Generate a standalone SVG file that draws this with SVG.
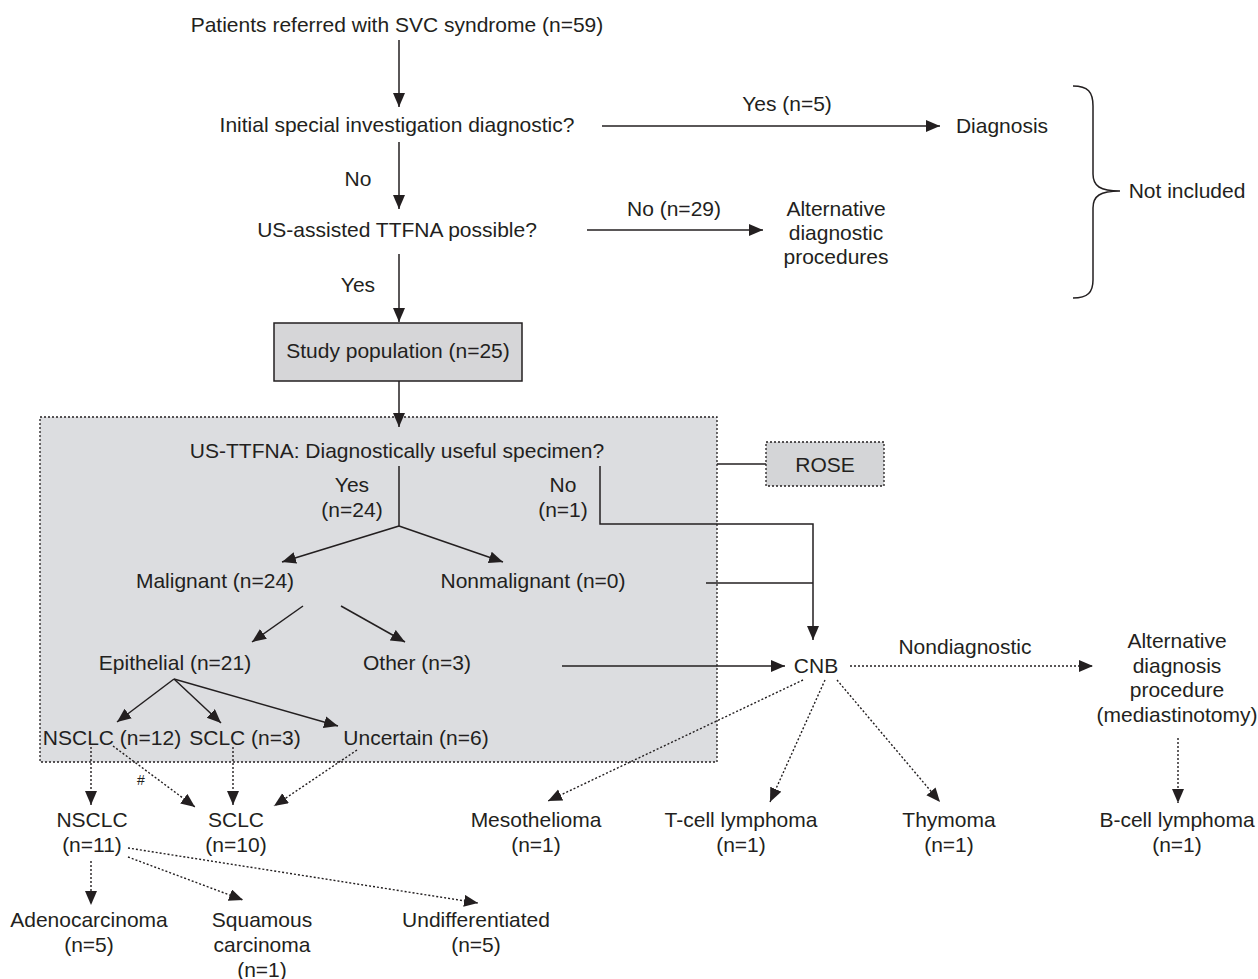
<svg xmlns="http://www.w3.org/2000/svg" width="1258" height="979" viewBox="0 0 1258 979">
<style>
text{font-family:"Liberation Sans",Arial,sans-serif;font-size:21px;fill:#231f20;text-anchor:middle}
.s{stroke:#231f20;stroke-width:1.5;fill:none}
.d{stroke:#231f20;stroke-width:1.4;fill:none;stroke-dasharray:2 2}
.box{stroke:#231f20;stroke-width:1.3;stroke-dasharray:2 2}
</style>
<defs>
<marker id="ah" markerUnits="userSpaceOnUse" markerWidth="15" markerHeight="13" refX="14" refY="6" orient="auto">
<path d="M0,0 L14,6 L0,12 z" fill="#231f20"/>
</marker>
</defs>
<rect width="1258" height="979" fill="#fff"/>

<g id="tfnaBox"><rect x="40" y="417" width="677" height="345" fill="#dcdde0" class="box"/></g>

<g id="connectors">
<line class="s" x1="399" y1="40" x2="399" y2="107" marker-end="url(#ah)"/>
<line class="s" x1="602" y1="126" x2="940" y2="126" marker-end="url(#ah)"/>
<line class="s" x1="399" y1="142" x2="399" y2="209" marker-end="url(#ah)"/>
<line class="s" x1="587" y1="230" x2="763" y2="230" marker-end="url(#ah)"/>
<line class="s" x1="399" y1="254" x2="399" y2="322" marker-end="url(#ah)"/>
<line class="s" x1="399" y1="381" x2="399" y2="427" marker-end="url(#ah)"/>
<polyline class="s" points="399,466 399,526"/>
<line class="s" x1="399" y1="526" x2="282" y2="562" marker-end="url(#ah)"/>
<line class="s" x1="399" y1="526" x2="503" y2="562" marker-end="url(#ah)"/>
<polyline class="s" points="600,466 600,524 813,524 813,640" marker-end="url(#ah)"/>
<line class="s" x1="706" y1="583" x2="813" y2="583"/>
<line class="s" x1="717" y1="464" x2="766" y2="464"/>
<line class="s" x1="303" y1="606" x2="252" y2="642" marker-end="url(#ah)"/>
<line class="s" x1="341" y1="606" x2="405" y2="642" marker-end="url(#ah)"/>
<line class="s" x1="562" y1="666" x2="785" y2="666" marker-end="url(#ah)"/>
<line class="s" x1="174" y1="679" x2="117" y2="722" marker-end="url(#ah)"/>
<line class="s" x1="174" y1="679" x2="221" y2="723" marker-end="url(#ah)"/>
<line class="s" x1="174" y1="679" x2="338" y2="726" marker-end="url(#ah)"/>
<line class="d" x1="91" y1="747" x2="91" y2="805" marker-end="url(#ah)"/>
<line class="d" x1="113" y1="746" x2="195" y2="807" marker-end="url(#ah)"/>
<line class="d" x1="233" y1="747" x2="233" y2="805" marker-end="url(#ah)"/>
<line class="d" x1="357" y1="750" x2="274" y2="806" marker-end="url(#ah)"/>
<line class="d" x1="91" y1="861" x2="91" y2="905" marker-end="url(#ah)"/>
<line class="d" x1="128" y1="857" x2="243" y2="900" marker-end="url(#ah)"/>
<line class="d" x1="128" y1="848" x2="478" y2="903" marker-end="url(#ah)"/>
<line class="d" x1="850" y1="666" x2="1093" y2="666" marker-end="url(#ah)"/>
<line class="d" x1="803" y1="680" x2="548" y2="801" marker-end="url(#ah)"/>
<line class="d" x1="825" y1="680" x2="770" y2="802" marker-end="url(#ah)"/>
<line class="d" x1="837" y1="680" x2="940" y2="802" marker-end="url(#ah)"/>
<line class="d" x1="1178" y1="738" x2="1178" y2="803" marker-end="url(#ah)"/>
<path class="s" d="M1073,86 C1088,86 1093,92 1093,106 L1093,174 C1093,186 1100,191 1120,191 C1100,191 1093,196 1093,208 L1093,280 C1093,292 1088,298 1073,298"/>
</g>

<g id="n-title"><text x="397" y="32">Patients referred with SVC syndrome (n=59)</text></g>
<g id="n-initial"><text x="397" y="132">Initial special investigation diagnostic?</text></g>
<g id="l-yes5"><text x="787" y="111">Yes (n=5)</text></g>
<g id="n-diagnosis"><text x="1002" y="133">Diagnosis</text></g>
<g id="l-no"><text x="358" y="186">No</text></g>
<g id="n-usassisted"><text x="397" y="237">US-assisted TTFNA possible?</text></g>
<g id="l-no29"><text x="674" y="216">No (n=29)</text></g>
<g id="n-altdiag"><text x="836" y="216">Alternative</text><text x="836" y="240">diagnostic</text><text x="836" y="264">procedures</text></g>
<g id="n-notincluded"><text x="1187" y="198">Not included</text></g>
<g id="l-yes"><text x="358" y="292">Yes</text></g>
<g id="n-study"><rect x="274" y="323" width="248" height="58" fill="#d6d6d8" stroke="#231f20" stroke-width="1.5"/><text x="398" y="358">Study population (n=25)</text></g>
<g id="n-ustfna"><text x="397" y="458">US-TTFNA: Diagnostically useful specimen?</text></g>
<g id="l-yes24"><text x="352" y="492">Yes</text><text x="352" y="517">(n=24)</text></g>
<g id="l-no1"><text x="563" y="492">No</text><text x="563" y="517">(n=1)</text></g>
<g id="n-rose"><rect x="766" y="442" width="118" height="44" fill="#d4d5d7" class="box"/><text x="825" y="472">ROSE</text></g>
<g id="n-malignant"><text x="215" y="588">Malignant (n=24)</text></g>
<g id="n-nonmalignant"><text x="533" y="588">Nonmalignant (n=0)</text></g>
<g id="n-epithelial"><text x="175" y="670">Epithelial (n=21)</text></g>
<g id="n-other"><text x="417" y="670">Other (n=3)</text></g>
<g id="n-cnb"><text x="816" y="673">CNB</text></g>
<g id="l-nondiag"><text x="965" y="654">Nondiagnostic</text></g>
<g id="n-altproc"><text x="1177" y="648">Alternative</text><text x="1177" y="673">diagnosis</text><text x="1177" y="697">procedure</text><text x="1177" y="722">(mediastinotomy)</text></g>
<g id="n-nsclc12"><text x="112" y="745">NSCLC (n=12)</text></g>
<g id="n-sclc3"><text x="245" y="745">SCLC (n=3)</text></g>
<g id="n-uncertain"><text x="416" y="745">Uncertain (n=6)</text></g>
<g id="l-hash"><text x="141" y="785" style="font-size:14px">#</text></g>
<g id="n-nsclc11"><text x="92" y="827">NSCLC</text><text x="92" y="852">(n=11)</text></g>
<g id="n-sclc10"><text x="236" y="827">SCLC</text><text x="236" y="852">(n=10)</text></g>
<g id="n-meso"><text x="536" y="827">Mesothelioma</text><text x="536" y="852">(n=1)</text></g>
<g id="n-tcell"><text x="741" y="827">T-cell lymphoma</text><text x="741" y="852">(n=1)</text></g>
<g id="n-thymoma"><text x="949" y="827">Thymoma</text><text x="949" y="852">(n=1)</text></g>
<g id="n-bcell"><text x="1177" y="827">B-cell lymphoma</text><text x="1177" y="852">(n=1)</text></g>
<g id="n-adeno"><text x="89" y="927">Adenocarcinoma</text><text x="89" y="952">(n=5)</text></g>
<g id="n-squamous"><text x="262" y="927">Squamous</text><text x="262" y="952">carcinoma</text><text x="262" y="977">(n=1)</text></g>
<g id="n-undiff"><text x="476" y="927">Undifferentiated</text><text x="476" y="952">(n=5)</text></g>
</svg>
